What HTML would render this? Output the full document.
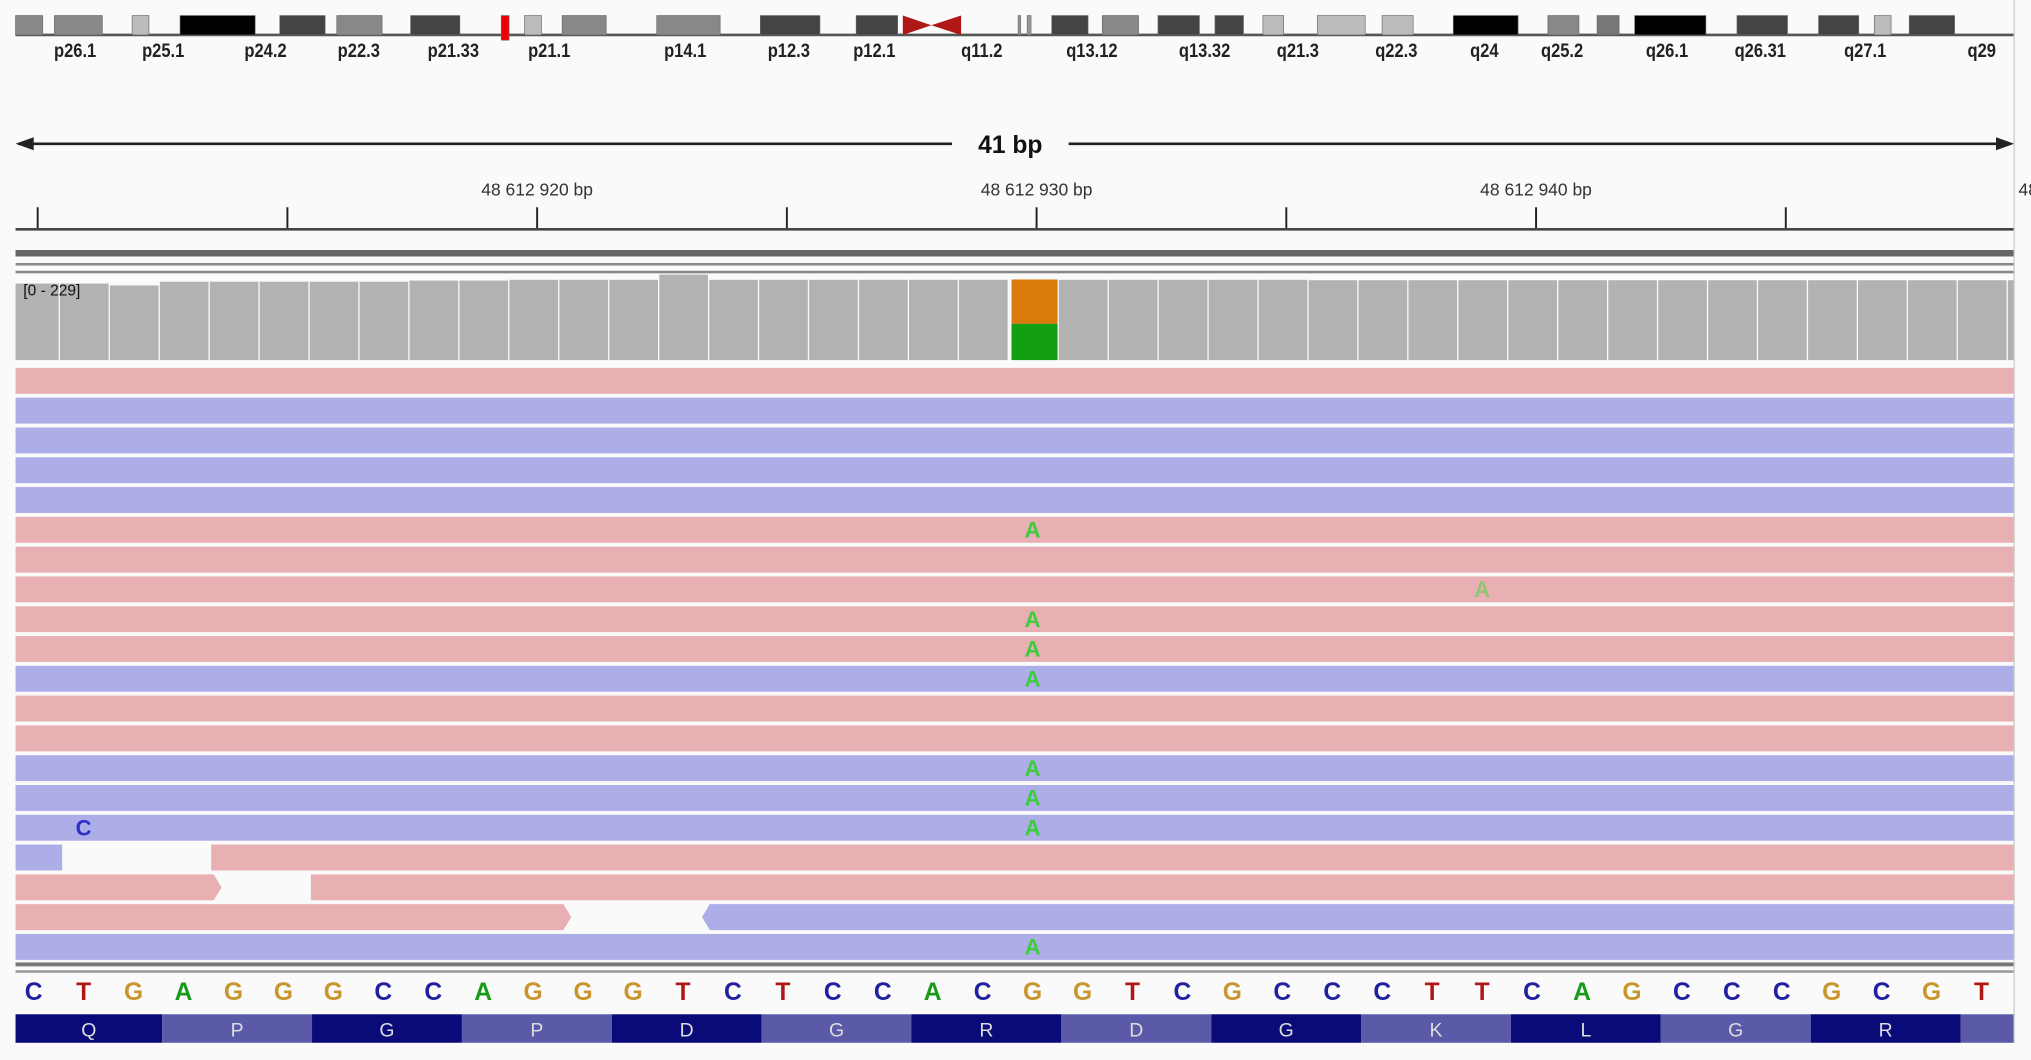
<!DOCTYPE html>
<html><head><meta charset="utf-8"><style>
html,body{margin:0;padding:0;background:#fff;}
svg{display:block;}
text{font-family:"Liberation Sans",sans-serif;}
</style></head><body>
<svg id="chart" xmlns="http://www.w3.org/2000/svg" width="2031" height="1060" viewBox="0 0 1568 818.3" preserveAspectRatio="none">
<rect x="0" y="0" width="1568" height="818.3" fill="#fafafa"/>
<g id="ideo"></g>
<g id="ruler">
  <line x1="14" y1="111" x2="735" y2="111" stroke="#222" stroke-width="2"/>
  <line x1="825" y1="111" x2="1552" y2="111" stroke="#222" stroke-width="2"/>
  <polygon points="12,111 26,106 26,116" fill="#222"/>
  <polygon points="1555,111 1541,106 1541,116" fill="#222"/>
  <text x="780" y="118" text-anchor="middle" font-size="19" font-weight="bold" fill="#111">41 bp</text>
  <line x1="12" y1="177" x2="1555" y2="177" stroke="#444" stroke-width="2"/>
</g>
<g id="ticks"></g>
<g>
  <rect x="12" y="193" width="1543" height="5" fill="#666"/>
  <rect x="12" y="203" width="1543" height="2" fill="#888"/>
  <rect x="12" y="209" width="1543" height="2" fill="#888"/>
</g>
<g id="cov"></g>
<text x="18" y="228" font-size="12" fill="#111">[0 - 229]</text>
<g id="reads"></g>
<g>
  <rect x="12" y="743" width="1543" height="3" fill="#777"/>
  <rect x="12" y="749" width="1543" height="2" fill="#999"/>
</g>
<g id="seq"></g>
<g id="aa"></g>
<line x1="1555" y1="0" x2="1555" y2="805" stroke="#ccc" stroke-width="1"/>
</svg>
<script>
const NS="http://www.w3.org/2000/svg";
const bases=["C","T","G","A","G","G","G","C","C","A","G","G","G","T","C","T","C","C","A","C","G","G","T","C","G","C","C","C","T","T","C","A","G","C","C","C","G","C","G","T"];
const aminoAcids=["Q","P","G","P","D","G","R","D","G","K","L","G","R",""];
const coverage=[205,205,200,210,210,210,210,210,213,213,215,215,215,229,215,215,215,215,215,215,216,215,215,215,215,215,214,214,214,214,214,214,214,214,214,214,214,214,214,214,214];
const variantIndex=20;
const variantAltFrac=[0.45];
const tickLabels=["","","48 612 920 bp","","48 612 930 bp","","48 612 940 bp","","48 6"];
const tickBases=[0.08,5.08,10.08,15.08,20.08,25.08,30.08,35.08,40.08];
const readStrands=["p","b","b","b","b","p","p","p","p","p","b","p","p","b","b","b","x","y","z","b"];
const readMismatches=[[],[],[],[],[],[[20,"A"]],[],[[29,"A"]],[[20,"A"]],[[20,"A"]],[[20,"A"]],[],[],[[20,"A"]],[[20,"A"]],[[20,"A"],[1,"C"]],[],[],[],[[20,"A"]]];
const bandStart=[12,42,102,139,216,260,317,387,405,434,507,587,661,786,793,812,851,894,938,975,1017,1067,1122,1195,1233,1262,1341,1404,1447,1474];
const bandEnd=[33,79,115,197,251,295,355,393,418,468,556,633,693,788,796,840,879,926,960,991,1054,1091,1172,1219,1250,1317,1380,1435,1460,1509];
const bandShade=["#888","#888","#bbb","#000","#444","#888","#444","#e00","#bbb","#888","#888","#444","#444","#999","#999","#444","#888","#444","#444","#bbb","#bbb","#bbb","#000","#888","#777","#000","#444","#444","#bbb","#444"];
const bandLabels=["p26.1","p25.1","p24.2","p22.3","p21.33","p21.1","p14.1","p12.3","p12.1","q11.2","q13.12","q13.32","q21.3","q22.3","q24","q25.2","q26.1","q26.31","q27.1","q29"];
const bandLabelX=[58,126,205,277,350,424,529,609,675,758,843,930,1002,1078,1146,1206,1287,1359,1440,1530];

const X0=26, BW=38.56, L=12, R=1555;
const bx=i=>X0+BW*i;
function el(tag,attrs,parent){const e=document.createElementNS(NS,tag);for(const k in attrs)e.setAttribute(k,attrs[k]);parent.appendChild(e);return e;}
const cl=(a,b)=>[Math.max(L,a),Math.min(R,b)];

const ideo=document.getElementById('ideo');
el('line',{x1:12,y1:27,x2:1555,y2:27,stroke:'#555','stroke-width':2},ideo);
bandStart.forEach((s,i)=>{const r=el('rect',{x:s,y:12,width:bandEnd[i]-s,height:i==7?19:15,fill:bandShade[i],stroke:'#666','stroke-width':0.5},ideo);

});
const cen=el('polygon',{points:'697,12 697,27 719,19.5 742,12 742,27 719,19.5',fill:'#b01818'},ideo);


bandLabels.forEach((t,i)=>{const e=el('text',{x:bandLabelX[i],y:44,'text-anchor':'middle','font-size':15,'font-weight':'bold',fill:'#222',transform:`translate(${bandLabelX[i]},0) scale(0.85,1) translate(${-bandLabelX[i]},0)`},ideo);e.textContent=t;

});

const tk=document.getElementById('ticks');
tickBases.forEach((b,i)=>{const x=bx(b);if(x<R){const ln=el('line',{x1:x,y1:160,x2:x,y2:176,stroke:'#222','stroke-width':1.5},tk);

}
if(tickLabels[i]){const t=el('text',{x:x,y:151,'text-anchor':'middle','font-size':13.5,fill:'#333'},tk);t.textContent=tickLabels[i];

}});

const cov=document.getElementById('cov');
const covMax=229, covBottom=278, covH=66;
coverage.forEach((c,i)=>{const [a,b]=cl(bx(i)-BW/2+1,bx(i)+BW/2);if(b<=a)return;const h=covH*c/covMax;
if(i===variantIndex){const alt=h*variantAltFrac[0];
const r1=el('rect',{x:a+2,y:covBottom-h,width:b-a-2,height:h-alt,fill:'#d97a0a'},cov);


const r2=el('rect',{x:a+2,y:covBottom-alt,width:b-a-2,height:alt,fill:'#12a012'},cov);

}
else{const r=el('rect',{x:a,y:covBottom-h,width:b-a,height:h,fill:'#b2b2b2'},cov);

}});

const rd=document.getElementById('reads');
const PINK='#e8b0b2', BLUE='#adaee8';
function readRect(x1,x2,y,c){const r=el('rect',{x:x1,y:y,width:x2-x1,height:20,fill:c},rd);

return r;}
function readArrow(x1,x2,y,c,dir){const pts=dir>0?`${x1},${y} ${x2-6},${y} ${x2},${y+10} ${x2-6},${y+20} ${x1},${y+20}`:`${x1+6},${y} ${x2},${y} ${x2},${y+20} ${x1+6},${y+20} ${x1},${y+10}`;
const p=el('polygon',{points:pts,fill:c},rd);

}
readStrands.forEach((s,r)=>{const y=284+r*23;
if(s==='p')readRect(L,R,y,PINK);
else if(s==='b')readRect(L,R,y,BLUE);
else if(s==='x'){readRect(L,48,y,BLUE);readRect(163,R,y,PINK);}
else if(s==='y'){readArrow(L,171,y,PINK,1);readRect(240,R,y,PINK);}
else if(s==='z'){readArrow(L,441,y,PINK,1);readArrow(542,R,y,BLUE,-1);}
readMismatches[r].forEach(m=>{const t=el('text',{x:bx(m[0]),y:y+16,'text-anchor':'middle','font-size':17,'font-weight':'bold',fill:m[1]==='A'?(m[0]===29?'#8fc470':'#3ccc3c'):'#3030c8'},rd);t.textContent=m[1];

});});

const sq=document.getElementById('seq');
const bc={A:'#1a9a1a',C:'#2020a0',G:'#c8962c',T:'#b01818'};
bases.forEach((b,i)=>{const t=el('text',{x:bx(i),y:772,'text-anchor':'middle','font-size':19,'font-weight':'bold',fill:bc[b]},sq);t.textContent=b;

});

const aa=document.getElementById('aa');
aminoAcids.forEach((a,k)=>{const s=9.5+115.7*k,e=s+115.7;const [x1,x2]=cl(s,e);if(x2<=x1)return;
const r=el('rect',{x:x1,y:783,width:x2-x1,height:22,fill:k%2?'#5a5aa8':'#0a0a78'},aa);


if(a){const t=el('text',{x:(x1+x2)/2,y:800,'text-anchor':'middle','font-size':15,fill:'#ddd'},aa);t.textContent=a;

}});
</script>
</body></html>
